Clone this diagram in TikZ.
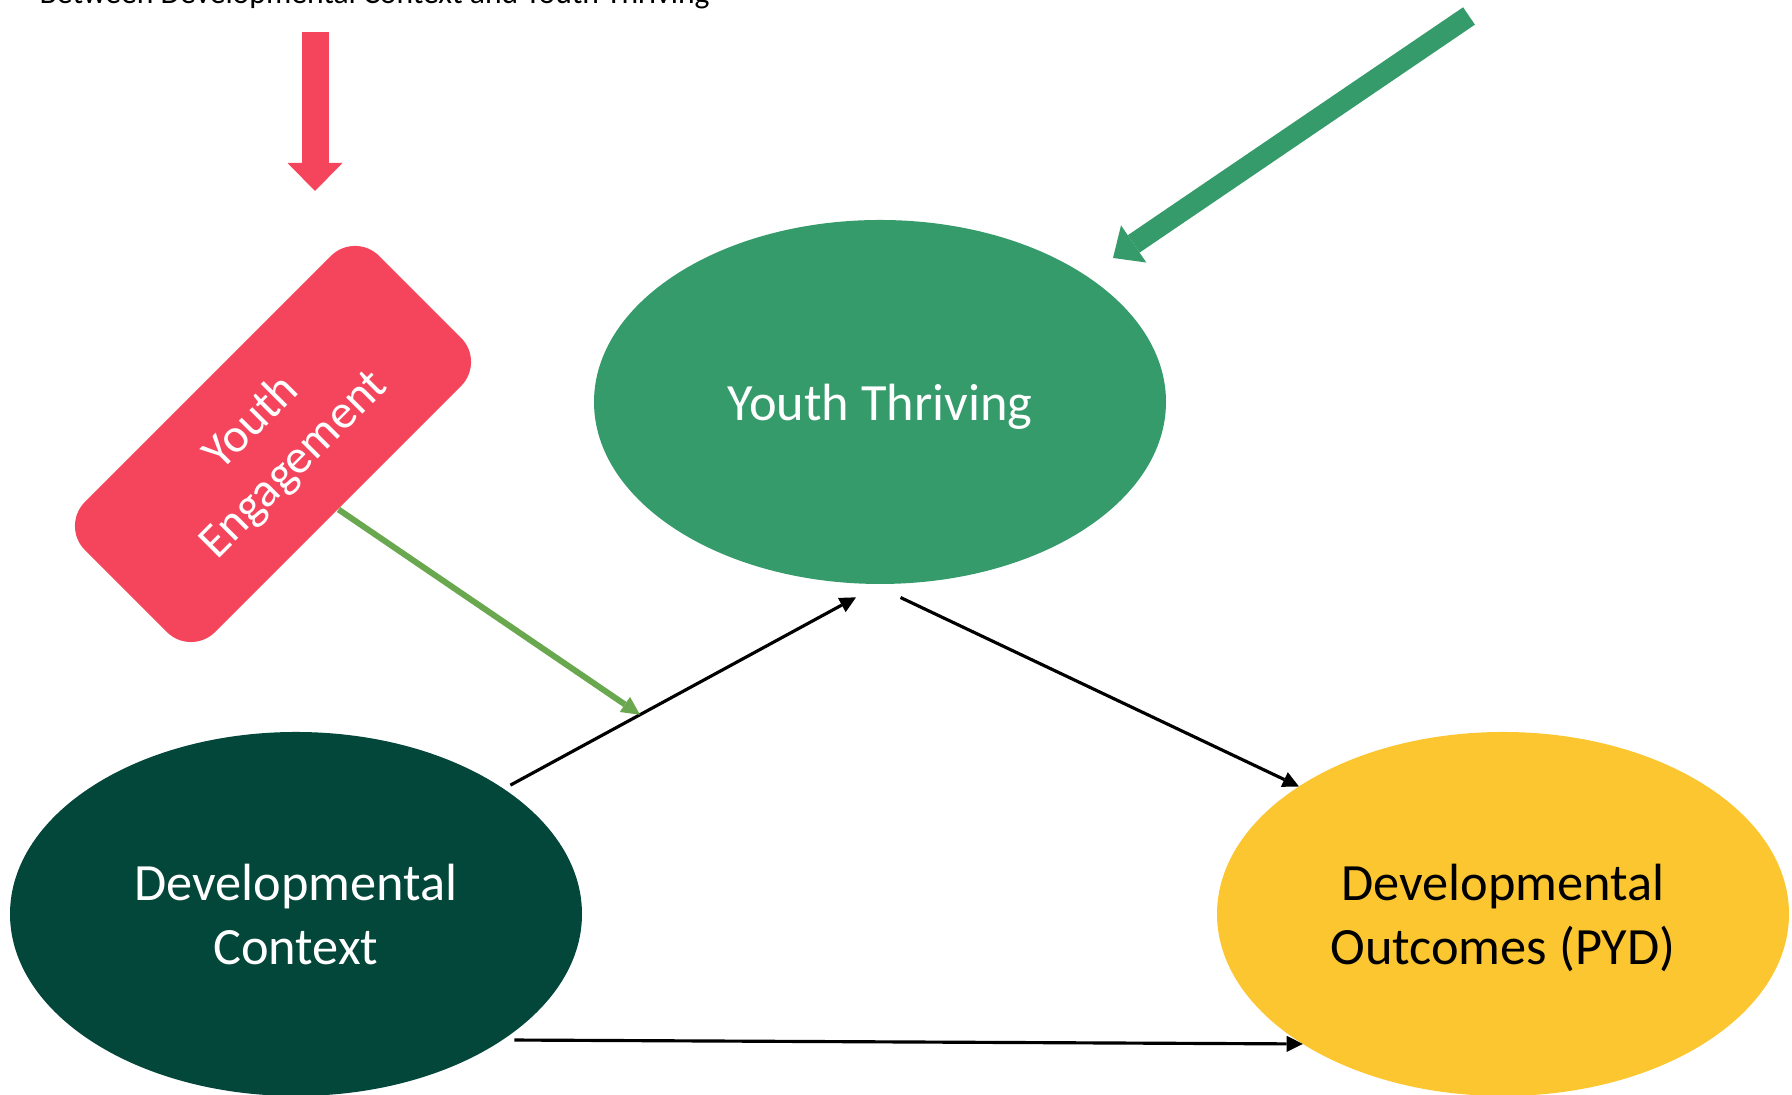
\documentclass[tikz,border=0pt]{standalone}
\usepackage{fontspec}
\setmainfont{Carlito}
\usepackage{tikz}
\usetikzlibrary{positioning,arrows.meta,shapes.geometric,calc}

\definecolor{thrivegreen}{RGB}{54,155,107}
\definecolor{ctxgreen}{RGB}{3,70,58}
\definecolor{pydyellow}{RGB}{252,198,48}
\definecolor{engred}{RGB}{245,69,92}
\definecolor{linkgreen}{RGB}{106,168,79}

\begin{document}
\begin{tikzpicture}[blob/.style={ellipse,minimum width=5.72cm,minimum height=3.64cm,inner sep=0pt,text depth=0pt,align=center,font=\fontsize{14.9}{18.2}\selectfont},
  link/.style={-{Triangle[length=4.6pt,width=4.6pt,line width=0pt]},line width=0.9pt}]
              \useasboundingbox (0,0) rectangle (17.92,10.95);

              \node[blob,fill=thrivegreen,text=white,outer sep=0.14cm] (thr) at (8.80,6.93) {Youth Thriving};
              \node[blob,fill=ctxgreen,text=white,outer sep=0.07cm] (ctx) at (2.96,1.81) {Developmental\\Context};
              \node[blob,fill=pydyellow,outer sep=0pt] (out) at (15.03,1.81) {Developmental\\Outcomes (PYD)};
              \node[fill=engred,text=white,rounded corners=0.34cm,minimum width=4.16cm,minimum height=1.84cm,rotate=45,align=center,font=\fontsize{13.7}{17}\selectfont] (eng) at (2.73,6.51) {Youth\\Engagement};
              \node[anchor=base west,inner sep=0pt,font=\fontsize{9}{11}\selectfont] (title) at (0.39,10.91) {Between Developmental Context and Youth Thriving};

              \coordinate (r1) at (3.15,10.63);
              \coordinate (r2) at (3.15,9.04);
              \coordinate (g1) at (14.69,10.79);
              \coordinate (g2) at (11.13,8.37);

              \draw[engred,line width=0.27cm,-{Triangle[length=0.28cm,width=0.55cm,line width=0pt]}] (r1) -- (r2);
              \draw[thrivegreen,line width=0.21cm,-{Triangle[length=0.25cm,width=0.45cm,line width=0pt]}] (g1) -- (g2);
              \draw[link] (ctx.31) -- coordinate[pos=0.375] (m) (thr.263);
              \draw[link] (thr.276) -- (out.148);
              \draw[link] (ctx.330) -- (out.213);
              \draw[linkgreen,line width=1.7pt,-{Triangle[length=5.2pt,width=5.2pt,line width=0pt]}] (eng.south) -- (m);
            \end{tikzpicture}
\end{document}
